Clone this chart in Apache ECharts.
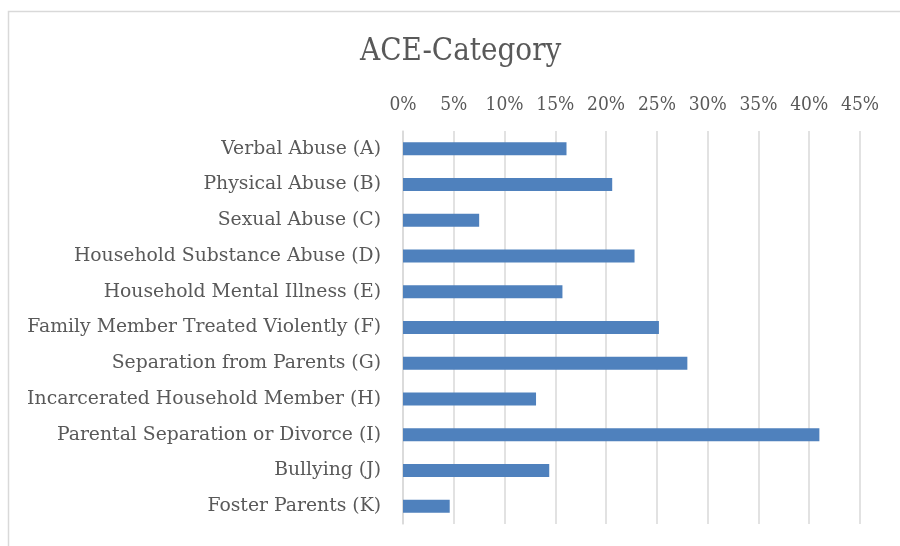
<!DOCTYPE html>
<html>
<head>
<meta charset="utf-8">
<script src="https://cdn.jsdelivr.net/npm/echarts@6/dist/echarts.min.js"></script>
<style>
  html, body { margin: 0; padding: 0; background: #fff; }
  #chart { width: 900px; height: 546px; }
</style>
</head>
<body>
<div id="chart"></div>
<script>
// categories top to bottom as shown in the picture
var categories = [
  'Verbal Abuse (A)',
  'Physical Abuse (B)',
  'Sexual Abuse (C)',
  'Household Substance Abuse (D)',
  'Household Mental Illness (E)',
  'Family Member Treated Violently (F)',
  'Separation from Parents (G)',
  'Incarcerated Household Member (H)',
  'Parental Separation or Divorce (I)',
  'Bullying (J)',
  'Foster Parents (K)'
]
// share of respondents, percent
var values = [16.1, 20.6, 7.5, 22.8, 15.7, 25.2, 28.0, 13.1, 41.0, 14.4, 4.6]

var textColor = '#595959'
var condensed = '"DejaVu Serif Condensed", "DejaVu Serif", serif'
var wide = '"DejaVu Serif", serif'

var chart = echarts.init(document.getElementById('chart'))
chart.setOption({
  animation: false,
  title: {
    text: 'ACE-Category',
    left: 355,
    top: 31,
    textStyle: {
      fontFamily: condensed,
      fontSize: 31,
      fontWeight: 'normal',
      color: textColor
    }
  },
  graphic: [{
    type: 'rect',
    shape: { x: 8.5, y: 11.5, width: 1000, height: 1000 },
    style: { fill: 'none', stroke: '#d9d9d9', lineWidth: 1.5 },
    silent: true
  }],
  grid: {
    left: 403,
    right: 40,
    top: 131,
    bottom: 22
  },
  xAxis: {
    type: 'value',
    position: 'top',
    min: 0,
    max: 45,
    interval: 5,
    axisLine: { show: false },
    axisTick: { show: false },
    axisLabel: {
      formatter: '{value}%',
      color: textColor,
      fontFamily: condensed,
      fontSize: 19,
      margin: 16
    },
    splitLine: {
      show: true,
      lineStyle: { color: '#d9d9d9', width: 1.5 }
    }
  },
  yAxis: {
    type: 'category',
    inverse: true,
    data: categories,
    axisLine: { show: true, lineStyle: { color: '#d9d9d9', width: 1.5 } },
    axisTick: { show: false },
    axisLabel: {
      color: textColor,
      fontFamily: wide,
      fontSize: 18.8,
      margin: 22
    }
  },
  series: [{
    type: 'bar',
    data: values,
    barWidth: 13,
    itemStyle: { color: '#4f81bd' }
  }]
})
</script>
</body>
</html>
